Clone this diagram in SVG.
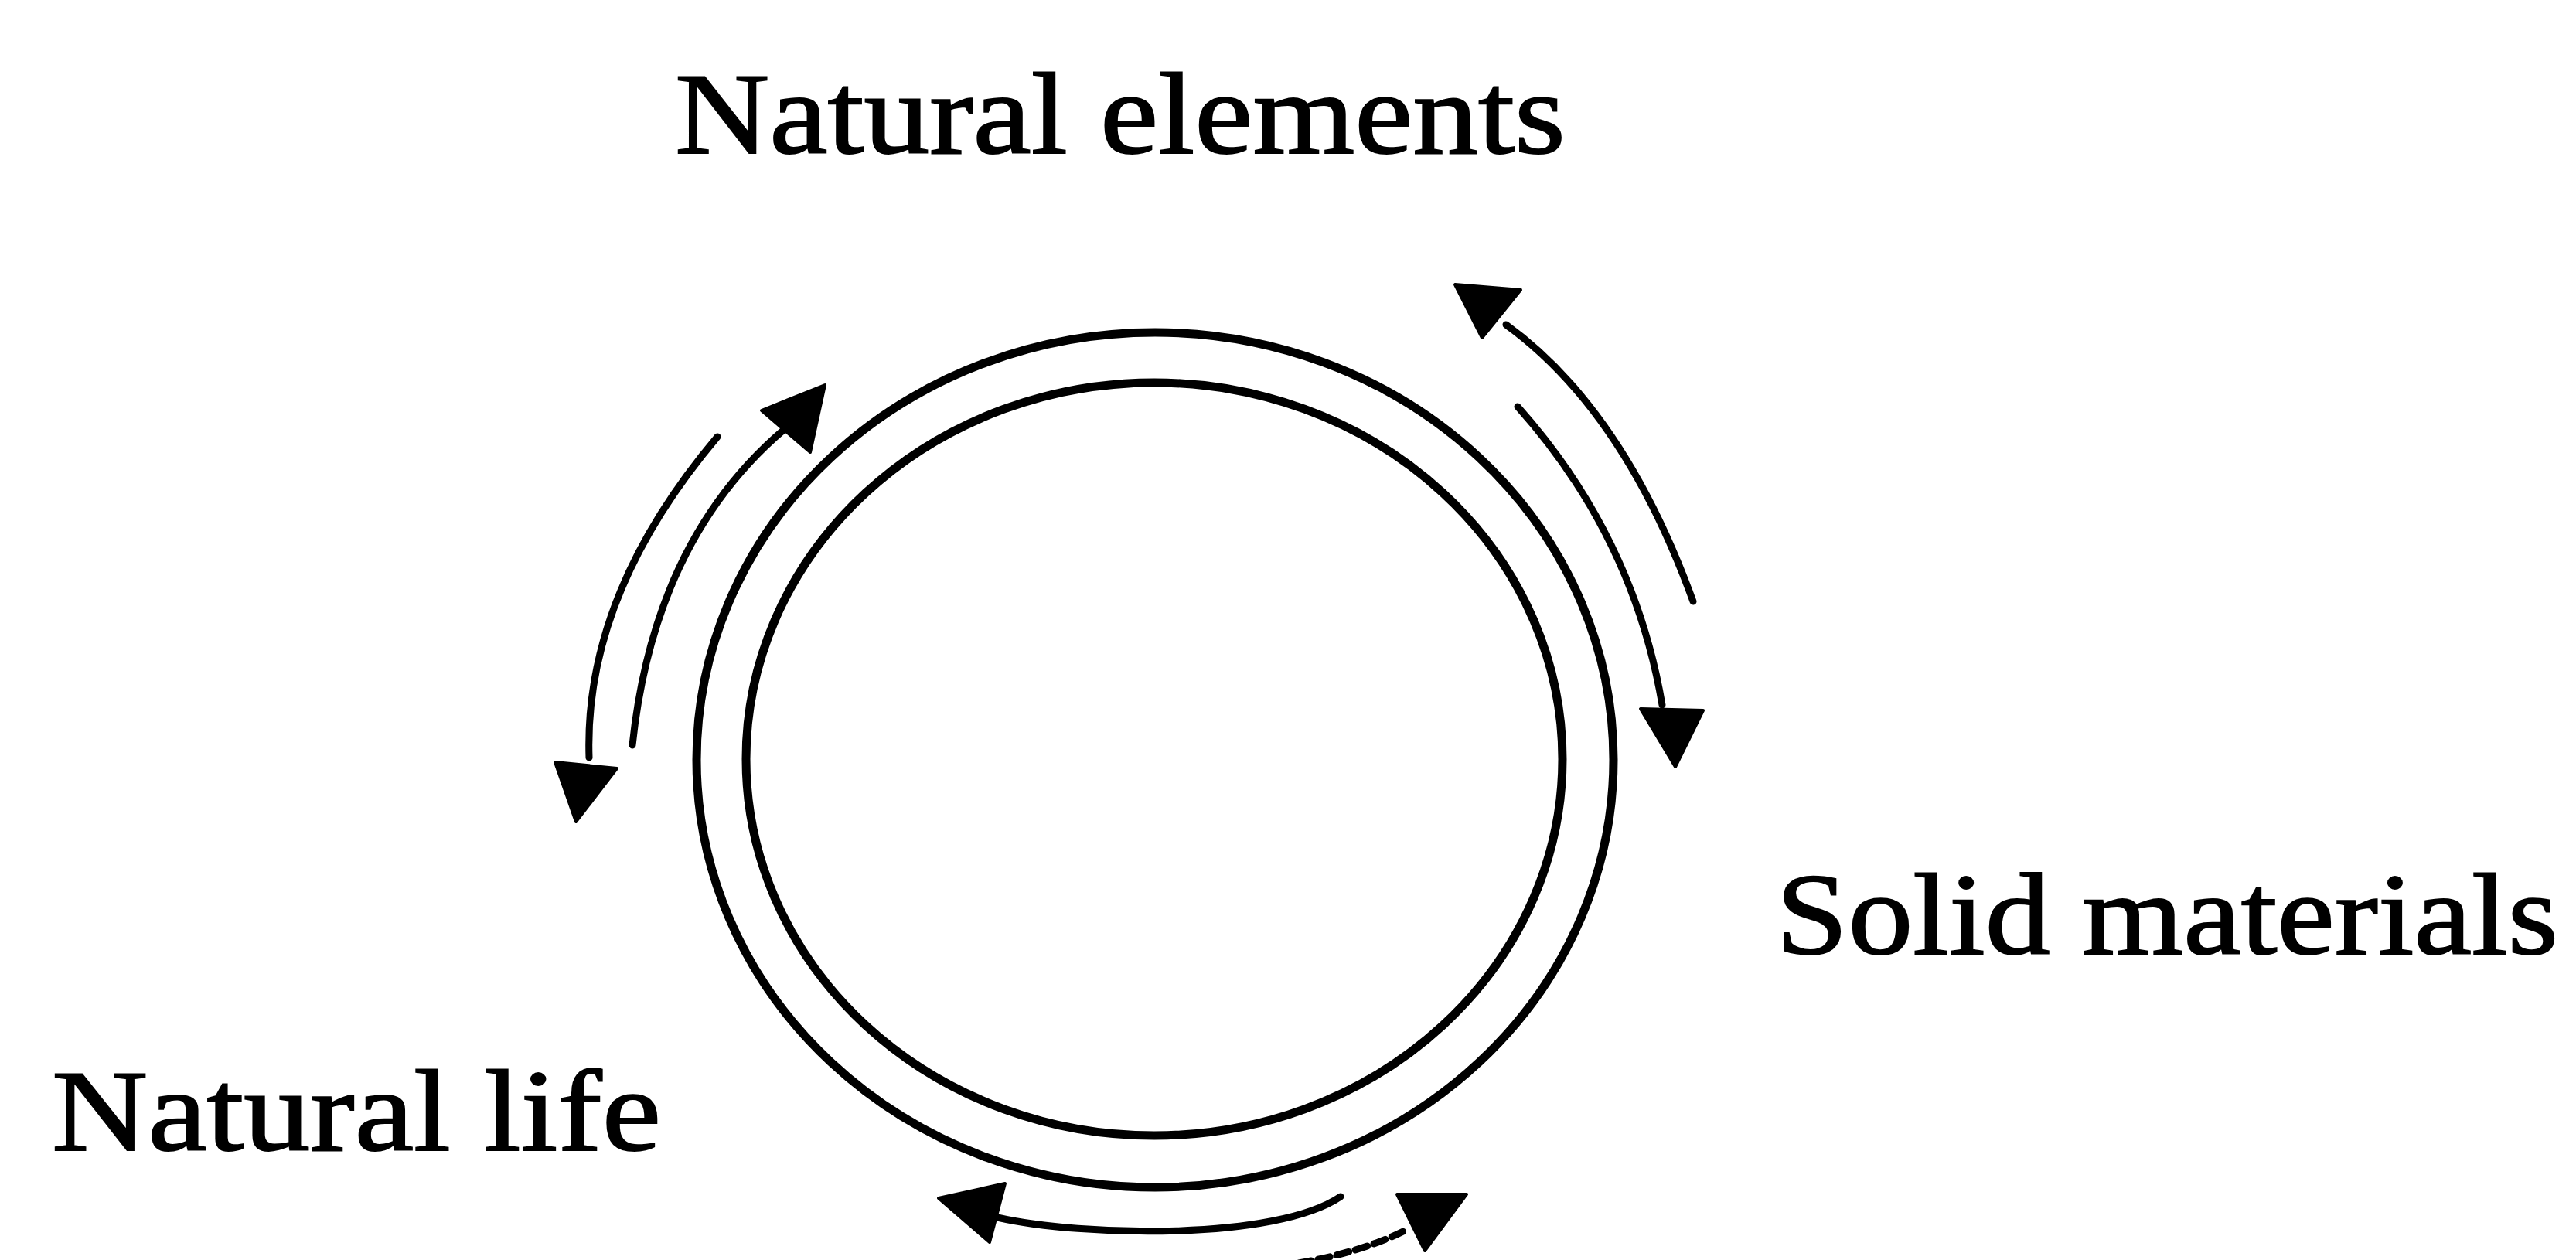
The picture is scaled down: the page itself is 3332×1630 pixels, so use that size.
<svg xmlns="http://www.w3.org/2000/svg" width="3332" height="1630" viewBox="0 0 3332 1630">
<style>
.lbl{font-family:"Liberation Serif","Times New Roman",serif;font-size:150px;fill:#000;stroke:#000;stroke-width:2}
.ring{fill:none;stroke:#000;stroke-width:11}
.arc{fill:none;stroke:#000;stroke-width:9;stroke-linecap:round}
.head{fill:#000;stroke:#000;stroke-width:4;stroke-linejoin:round}
</style>
<rect width="3332" height="1630" fill="#fff"/>
<g id="cycle">
<ellipse class="ring" cx="1494" cy="983" rx="593" ry="553"/>
<ellipse class="ring" cx="1493" cy="982" rx="528" ry="487"/>
</g>
<g id="natural-elements"><text class="lbl" x="873" y="198" textLength="1152" lengthAdjust="spacingAndGlyphs">Natural elements</text></g>
<g id="solid-materials"><text class="lbl" x="2297" y="1234" textLength="1012" lengthAdjust="spacingAndGlyphs">Solid materials</text></g>
<g id="natural-life"><text class="lbl" x="67" y="1488" textLength="788" lengthAdjust="spacingAndGlyphs">Natural life</text></g>
<g id="connectors">
<path class="arc" d="M1948,420 Q2100,530 2190,778"/>
<polygon class="head" points="1882,368 1967,375 1917,437"/>
<path class="arc" d="M1963,526 Q2113,694 2150,912"/>
<polygon class="head" points="2122,917 2203,919 2167,992"/>
<path class="arc" d="M928,565 Q755,770 762,980"/>
<polygon class="head" points="718,986 798,994 745,1063"/>
<path class="arc" d="M818,964 Q846,698 1015,555"/>
<polygon class="head" points="985,531 1067,498 1048,585"/>
<path class="arc" d="M1290,1575 C1400,1600 1650,1605 1734,1548"/>
<polygon class="head" points="1214,1550 1300,1531 1280,1607"/>
<path class="arc" d="M1680,1634 Q1760,1620 1815,1593" stroke-dasharray="16 9"/>
<polygon class="head" points="1807,1545 1897,1545 1843,1618"/>
</g>
</svg>
